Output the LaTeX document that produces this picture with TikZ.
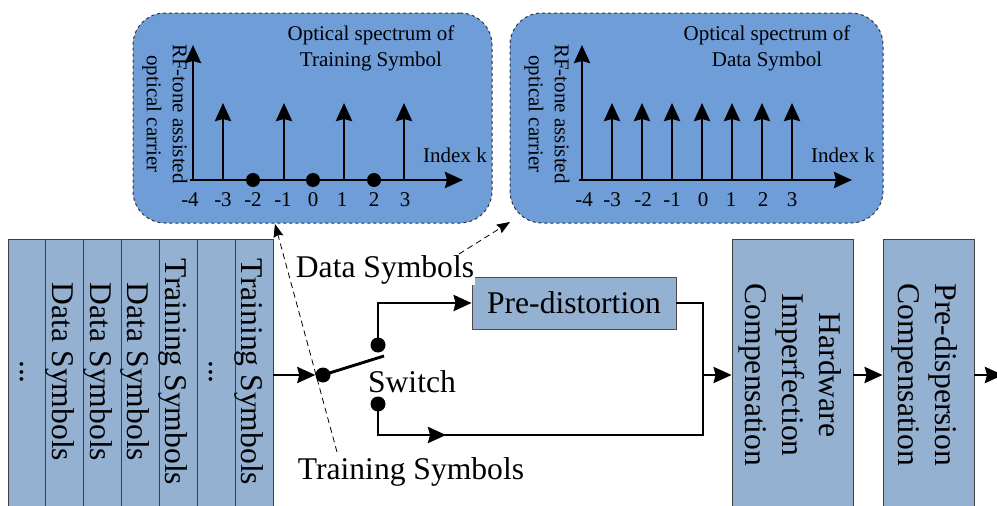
\documentclass[tikz,border=0pt]{standalone}
\usepackage{fontspec}
\setmainfont{Liberation Serif}
\usetikzlibrary{arrows.meta}
\definecolor{specblue}{RGB}{110,157,216}
\definecolor{colblue}{RGB}{149,177,210}
\begin{document}
\begin{tikzpicture}[x=1pt,y=-1pt,
  big/.style={font=\fontsize{31.6}{37}\selectfont, inner sep=0pt},
  small/.style={font=\fontsize{21}{26}\selectfont, inner sep=0pt},
  colbox/.style={draw=black!75, line width=0.8pt, fill=colblue, minimum height=272pt, inner sep=0pt},
  specbox/.style={draw=black!80, dashed, line width=1pt, fill=specblue, rounded corners=32pt, minimum width=359pt, minimum height=210pt, inner sep=0pt},
  main/.style={line width=2.9pt},
  arr/.style={-{Stealth[length=18pt,width=16pt,inset=2pt]}},
  darr/.style={dashed, line width=0.8pt, dash pattern=on 6pt off 4pt, -{Stealth[length=13pt,width=10pt,inset=1.5pt]}},
  dot/.style={circle, fill=black, minimum size=15pt, inner sep=0pt},
  rottext/.style={rotate=-90, align=center}
]
\useasboundingbox (0,0) rectangle (997,506);

% ---------- spectrum boxes ----------
\node[specbox] (sp1) at (312.5,118) {};
\node[specbox, minimum width=373pt] (sp2) at (696.5,118) {};

% spectrum 1 (training)
\draw[main, arr] (193,180) -- (193,45);
\draw[main, arr] (190,180) -- (463,180);
\foreach \x in {223,284,344,404} \draw[main, arr] (\x,180) -- (\x,103);
\foreach \x in {253,313,374} \fill (\x,180) circle (7pt);
\foreach \x/\l in {190/-4,223/-3,253/-2,283/-1,313/0,342/1,374/2,405/3}
  \node[small] at (\x,200) {\l};
\node[small] (ik1) at (455,155) {Index k};
\node[small, align=center] (tt1) at (371,48) {Optical spectrum of\\Training Symbol};
\node[small, rottext] (rf1) at (165,114) {RF-tone assisted\\optical carrier};

% spectrum 2 (data)
\draw[main, arr] (582,180) -- (582,45);
\draw[main, arr] (579,180) -- (852,180);
\foreach \x in {612,642,672,702,732,762,792} \draw[main, arr] (\x,180) -- (\x,103);
\foreach \x/\l in {584/-4,612/-3,643/-2,672/-1,703/0,731/1,763/2,792/3}
  \node[small] at (\x,200) {\l};
\node[small] (ik2) at (843,155) {Index k};
\node[small, align=center] (tt2) at (767,48) {Optical spectrum of\\Data Symbol};
\node[small, rottext] (rf2) at (547,114) {RF-tone assisted\\optical carrier};

% ---------- symbol columns ----------
\foreach \i/\t in {1/{...},2/Data Symbols,3/Data Symbols,4/Data Symbols,5/Training Symbols,6/{...},7/Training Symbols}{
  \node[colbox, minimum width=37.9pt] (c\i) at ({8+37.86*(\i-0.5)},375) {};
  \node[big, rotate=-90] (t\i) at ({8+37.86*(\i-0.5)-5},372) {\t};
}

% ---------- switch ----------
\node[dot] (piv) at (323,375) {};
\node[dot] (tdot) at (378,345) {};
\node[dot] (bdot) at (378,404) {};
\coordinate (blade) at (384,356);
\draw[main, arr] (c7.east) -- (piv.west);
\draw[main] (piv.center) -- (blade);

\node[draw=black!70, line width=0.8pt, fill=colblue, minimum width=204pt, minimum height=52pt, big, inner sep=0pt] (pd) at (574,303) {Pre-distortion};

\coordinate (cr1) at (703,435);
\coordinate (cr2) at (378,435);
\coordinate (mid) at (446,435);
\coordinate (jn) at (703,375);
\draw[main, arr] (tdot.center) |- (pd.west);
\draw[main] (pd.east) -| (cr1) -- (cr2) -- (bdot.center);
\draw[main, arr] (cr2) -- (mid);

% ---------- compensation blocks ----------
\node[colbox, minimum width=121pt] (hw) at (792.5,375) {};
\node[big, rottext] (hwt) at (790,375) {Hardware\\Imperfection\\Compensation};
\node[colbox, minimum width=91pt] (pdp) at (928.5,375) {};
\node[big, rottext] (pdpt) at (925,375) {Pre-dispersion\\Compensation};
\coordinate (out) at (1003,375);
\draw[main, arr] (jn) -- (hw.west);
\draw[main, arr] (hw.east) -- (pdp.west);
\draw[main, arr] (pdp.east) -- (out);

% ---------- labels ----------
\node[big, fill=white, inner sep=1pt] (lds) at (385,270) {Data Symbols};
\node[big] (lts) at (411,472) {Training Symbols};
\node[big] (lsw) at (412,382) {Switch};

\coordinate (d1s) at (337,452);
\coordinate (d1e) at (275,224);
\coordinate (d2s) at (459,254);
\coordinate (d2e) at (510,222);
\draw[darr] (d1s) -- (d1e);
\draw[darr] (d2s) -- (d2e);
\end{tikzpicture}
\end{document}
